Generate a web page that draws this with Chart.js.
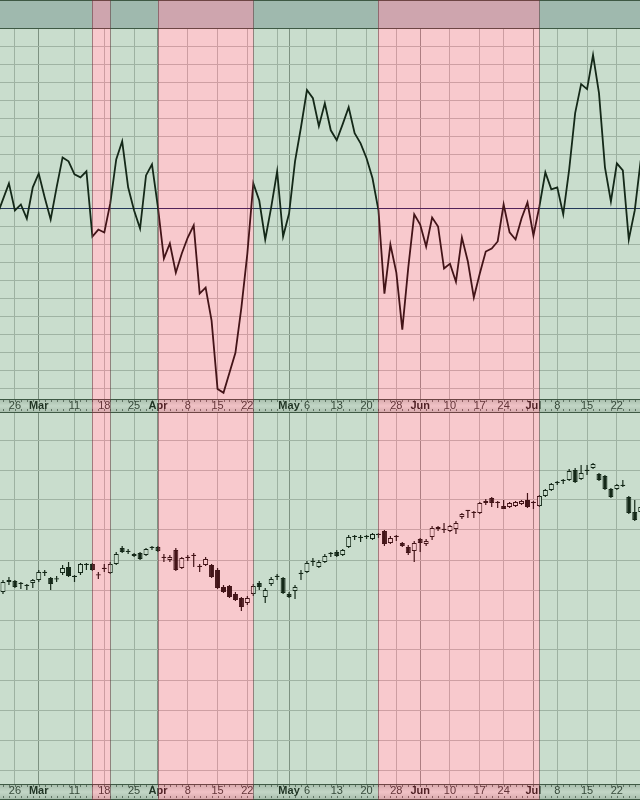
<!DOCTYPE html>
<html>
<head>
<meta charset="utf-8">
<script src="https://cdn.jsdelivr.net/npm/chart.js@4.4.1/dist/chart.umd.min.js"></script>
<style>
    body { margin: 0; background: #fff; }
    canvas { display: block; }
</style>
</head>
<body>
<canvas id="oscChart" width="640" height="413"></canvas>
<canvas id="priceChart" width="640" height="387"></canvas>
<script>
// Weekly / monthly grid lines (trading-day index) and their labels
const tickDays   = [2, 6, 12, 17, 22, 26, 31, 36, 41, 46, 48, 51, 56, 61, 66, 70, 75, 80, 84, 89, 93, 98, 103];
const tickLabels = ['26', 'Mar', '11', '18', '25', 'Apr', '8', '15', '22', '', 'May', '6', '13', '20', '28', 'Jun', '10', '17', '24', 'Jul', '8', '15', '22'];
const monthDays  = [6, 26, 48, 70, 89];

// Horizontal grid values of both panels
const oscGrid   = [-100, -90, -80, -70, -60, -50, -40, -30, -20, -10, 0, 10, 20, 30, 40, 50, 60, 70, 80, 90, 100];
const priceGrid = [15, 30, 45, 60, 75, 90, 105, 120, 135, 150, 165, 180];

// Shaded trend regions (start day, end day, trend)
const regionStart = [-1, 15, 18, 26, 42, 63, 90];
const regionEnd   = [15, 18, 26, 42, 63, 90, 108];
const regionTrend = ['up', 'down', 'up', 'down', 'up', 'down', 'up'];

// Oscillator, first value belongs to the day before the first candle (day -1)
const oscillator = [
    -3.9, 5.0, 13.9, -1.1, 2.2, -5.6, 11.7, 19.4, 6.1, -6.1,
    11.7, 28.3, 26.1, 18.9, 17.2, 20.6, -15.6, -11.7, -13.3, 2.8,
    27.2, 37.2, 11.7, -1.1, -11.1, 18.3, 24.4, 0.6, -27.8, -19.4,
    -35.6, -25.0, -16.1, -9.4, -47.2, -43.9, -62.2, -100.0, -102.2, -91.1,
    -80.0, -55.0, -25.0, 13.9, 4.4, -17.2, 0.6, 20.6, -15.6, -2.8,
    26.1, 45.0, 65.6, 61.1, 45.6, 58.3, 43.3, 37.8, 46.7, 56.1,
    41.7, 36.1, 27.8, 16.7, -1.1, -47.2, -20.0, -35.6, -67.2, -32.8,
    -3.3, -8.9, -21.1, -5.0, -10.0, -33.3, -30.6, -40.6, -16.1, -29.4,
    -49.4, -36.1, -23.9, -22.2, -18.3, 2.2, -13.3, -17.2, -5.6, 3.3,
    -15.0, 1.1, 20.0, 10.6, 11.7, -3.3, 21.7, 52.8, 68.9, 66.1,
    85.0, 63.9, 22.8, 3.9, 25.0, 21.1, -17.2, -1.1, 26.7
];

// Daily candles (day 0 .. 107)
const opens = [
    104, 110, 109.5, 108.5, 107, 108.5, 110, 113.5, 111, 110.3,
    113.5, 116.5, 111.7, 113.5, 117.5, 118, 112.5, 115.5, 113.5, 118,
    126, 124, 123, 123.5, 122.5, 126, 126.5, 121, 120, 125,
    116, 121, 122, 116.7, 117.5, 117.5, 115, 106.5, 107, 103,
    101, 98.5, 103, 108.5, 101.5, 108, 111.5, 111, 103, 104.5,
    113, 114, 119, 116.5, 119, 123, 124, 122.5, 126.5, 131.5,
    131, 131.5, 130.5, 132.5, 134.5, 128.5, 131.5, 128.5, 126.5, 124.5,
    130.5, 128, 131.5, 136.5, 135, 134.5, 135.5, 141.5, 144.5, 143.5,
    143.5, 148.5, 151, 148.5, 147, 146.5, 147, 148, 150, 148.5,
    147, 152, 155, 158.5, 159.5, 160, 165, 160.5, 164.5, 166,
    163, 162, 155.5, 155.5, 157, 151.5, 144, 144
];
const highs = [
    110, 111.5, 110, 109, 108, 110.5, 115, 115, 111.5, 112,
    117.5, 119, 112.5, 118.5, 118.5, 118.5, 114, 118, 119, 124,
    127, 125.5, 123.5, 124, 126, 127, 127, 123, 122.5, 126,
    121.5, 122.5, 123.5, 118, 121.5, 118, 116, 107.5, 107.5, 104,
    101.5, 102, 108, 109.5, 106, 111.5, 113, 111.5, 104, 107.5,
    115, 119.5, 121, 120, 123, 124, 125, 125.5, 132.5, 132.5,
    132.5, 132.5, 133.5, 133.5, 135, 132, 132.5, 129, 127.5, 129.5,
    131, 130.5, 137, 137, 138.5, 137.5, 139.5, 143.5, 145, 144.5,
    149, 150.5, 151.5, 149.5, 150, 149, 149.5, 150, 153.5, 149.5,
    152.5, 155.5, 158.5, 159.5, 160.5, 165.5, 166, 167.5, 167.5, 168.5,
    163.5, 162.5, 156, 158, 160, 152, 150, 147.5
];
const lows = [
    103, 107.5, 106, 105.5, 105, 106, 109, 112, 105, 109,
    112.5, 111.5, 109, 112.5, 115, 114.5, 110.5, 114, 113, 117.5,
    123.5, 123, 121.5, 120, 122, 125, 124, 119, 119, 114.5,
    115.5, 119.5, 116.5, 114, 117, 111, 105.5, 103.5, 101, 99.5,
    94.5, 97.5, 102, 105, 98.5, 107, 110, 103, 101, 100.5,
    110, 113.5, 117, 116, 118.5, 121.5, 121.5, 122, 126, 130,
    129, 130.5, 130, 131, 127, 128, 129.5, 126.5, 122.5, 119,
    124, 127, 130, 134.5, 133.5, 134, 133, 140.5, 141, 141,
    143, 147.5, 146.5, 146, 145.5, 146, 146.5, 147.5, 146, 145.5,
    146.5, 151.5, 154.5, 157.5, 158, 159.5, 158.5, 160, 162.5, 165.5,
    159.5, 155, 151, 155, 156.5, 143, 139.5, 143.5
];
const closes = [
    109, 109, 106.5, 108, 107.5, 110, 114, 113.8, 108, 110.5,
    116, 112, 111.5, 118, 117.7, 115, 112.3, 115.7, 118, 123,
    124, 124.2, 122, 120.5, 125.5, 126.2, 124.5, 121.2, 121.5, 115,
    121, 121.2, 122.2, 116.5, 120.5, 111.5, 106, 104, 101.5, 100,
    96.5, 101, 107, 106.5, 105, 110.5, 111.7, 103.5, 101.5, 106.5,
    113.2, 118.5, 119.2, 119, 122, 123.2, 122, 125, 131.5, 131.7,
    131.2, 131.7, 133, 132.7, 128, 131, 131.7, 127, 123.5, 128.5,
    128.5, 129.5, 136, 135.5, 135.2, 137, 138.5, 143, 144.7, 143.7,
    148.5, 149.5, 148.5, 148.7, 145.5, 148.5, 149, 149.5, 146.5, 148.7,
    152, 155, 158, 158.7, 159.7, 164.5, 159, 163.5, 164.7, 168,
    160, 155.5, 151.5, 157.5, 157.2, 143.5, 140, 146.5
];

const fontFamily = 'Arial, "Liberation Sans", sans-serif';
const upTint = 'rgba(69, 138, 83, 0.29)';
const downTint = 'rgba(231, 69, 83, 0.29)';

// Plugin: header strip, date strip and the trend shading laid over everything
function stripPlugin(hasHeader) {
    return {
        id: 'strips',
        beforeDraw(chart) {
            const { ctx, chartArea, width, height } = chart;
            const xs = chart.scales.x;
            ctx.save();
            ctx.fillStyle = '#fff';
            ctx.fillRect(0, 0, width, height);
            if (hasHeader) {
                ctx.fillStyle = '#c4cdd3';
                ctx.fillRect(0, 0, width, chartArea.top);
            }
            // date strip with a soft gradient
            const y0 = chartArea.bottom, y1 = height;
            const g = ctx.createLinearGradient(0, y0, 0, y1);
            g.addColorStop(0, '#cfd2d0');
            g.addColorStop(0.5, '#f6f6f6');
            g.addColorStop(1, '#cdd0ce');
            ctx.fillStyle = g;
            ctx.fillRect(0, y0, width, y1 - y0);
            // small day ticks on both edges of the strip
            ctx.fillStyle = '#6a6a6a';
            for (let d = Math.ceil(xs.min); d <= xs.max; d++) {
                const px = Math.round(xs.getPixelForValue(d));
                ctx.fillRect(px, y0 + 1, 1, 2);
                ctx.fillRect(px, y1 - 4, 1, 2);
            }
            ctx.restore();
        },
        afterDraw(chart) {
            const { ctx, chartArea, width, height } = chart;
            const xs = chart.scales.x;
            ctx.save();
            // strip borders
            ctx.fillStyle = '#3c463f';
            if (hasHeader) {
                ctx.fillRect(0, 0, width, 1);
                ctx.fillRect(0, chartArea.top, width, 1);
            }
            ctx.fillRect(0, chartArea.bottom, width, 1);
            ctx.fillRect(0, height - 1, width, 1);
            // trend shading
            regionStart.forEach((s, i) => {
                const a = Math.round(xs.getPixelForValue(s));
                const b = Math.round(xs.getPixelForValue(regionEnd[i]));
                ctx.fillStyle = regionTrend[i] === 'up' ? upTint : downTint;
                ctx.fillRect(a, 0, b - a, height);
            });
            // region edges
            ctx.fillStyle = 'rgba(95, 55, 60, 0.55)';
            regionStart.slice(1).forEach(s => {
                ctx.fillRect(Math.round(xs.getPixelForValue(s)), 0, 1, height);
            });
            ctx.restore();
        }
    };
}

// Shared date axis
function dateAxis(stripHeight) {
    return {
        type: 'linear',
        min: -0.5,
        max: 106.88,
        offset: false,
        afterBuildTicks: scale => { scale.ticks = tickDays.map(v => ({ value: v })); },
        afterFit: scale => { scale.height = stripHeight; },
        border: { display: false },
        grid: {
            offset: false,
            drawTicks: false,
            color: ctx => monthDays.includes(ctx.tick && ctx.tick.value) ? '#959595' : '#c2c2c2',
            lineWidth: 1
        },
        ticks: {
            autoSkip: false,
            maxRotation: 0,
            padding: 1,
            callback: value => {
                const i = tickDays.indexOf(value);
                return i >= 0 ? tickLabels[i] : '';
            },
            color: ctx => monthDays.includes(ctx.tick && ctx.tick.value) ? '#101010' : '#2e2e2e',
            font: ctx => ({
                family: fontFamily,
                size: 11,
                lineHeight: 1.1,
                weight: monthDays.includes(ctx.tick && ctx.tick.value) ? 'bold' : 'normal'
            })
        }
    };
}

Chart.defaults.animation = false;
Chart.defaults.events = [];

// Oscillator panel
const oscCtx = document.getElementById('oscChart').getContext('2d');
const oscChart = new Chart(oscCtx, {
    type: 'line',
    data: {
        datasets: [{
            data: oscillator.map((v, i) => ({ x: i - 1, y: v })),
            borderColor: '#000',
            borderWidth: 1.8,
            pointRadius: 0,
            tension: 0
        }]
    },
    options: {
        responsive: false,
        layout: { padding: { top: 28, left: 0, right: 0, bottom: 0 } },
        plugins: { legend: { display: false }, tooltip: { enabled: false } },
        scales: {
            x: dateAxis(14),
            y: {
                min: -105.6,
                max: 100,
                afterBuildTicks: scale => { scale.ticks = oscGrid.map(v => ({ value: v })); },
                afterFit: scale => { scale.width = 0; },
                border: { display: false },
                ticks: { display: false },
                grid: {
                    drawTicks: false,
                    color: ctx => (ctx.tick && ctx.tick.value === 0) ? '#16165c' : '#c4c4c4'
                }
            }
        }
    },
    plugins: [stripPlugin(true)]
});

// Price panel: wicks and bodies as floating bars
const days = opens.map((o, k) => k);
const bodyFill = opens.map((o, k) => (closes[k] - o > 0.5 ? '#fff' : '#000'));

const priceCtx = document.getElementById('priceChart').getContext('2d');
const priceChart = new Chart(priceCtx, {
    type: 'bar',
    data: {
        datasets: [
            {
                label: 'wick',
                data: days.map(k => ({ x: k, y: [lows[k], highs[k]] })),
                backgroundColor: '#000',
                barThickness: 1.2,
                grouped: false,
                inflateAmount: 0,
                order: 2
            },
            {
                label: 'body',
                data: days.map(k => ({ x: k, y: [opens[k], closes[k]] })),
                backgroundColor: bodyFill,
                borderColor: '#000',
                borderWidth: 1,
                borderSkipped: false,
                minBarLength: 1.2,
                barThickness: 5,
                grouped: false,
                inflateAmount: 0,
                order: 1
            }
        ]
    },
    options: {
        responsive: false,
        layout: { padding: 0 },
        plugins: { legend: { display: false }, tooltip: { enabled: false } },
        scales: {
            x: dateAxis(16),
            y: {
                min: 8,
                max: 193.5,
                afterBuildTicks: scale => { scale.ticks = priceGrid.map(v => ({ value: v })); },
                afterFit: scale => { scale.width = 0; },
                border: { display: false },
                ticks: { display: false },
                grid: { drawTicks: false, color: '#c4c4c4' }
            }
        }
    },
    plugins: [stripPlugin(false)]
});
</script>
</body>
</html>
